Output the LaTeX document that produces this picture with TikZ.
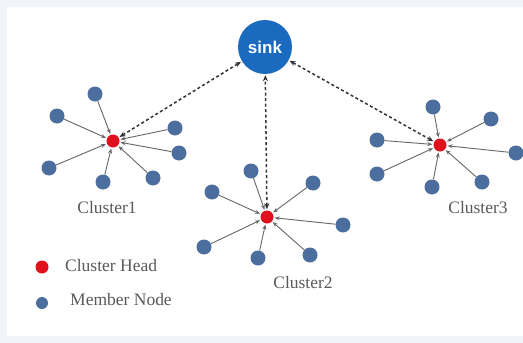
\documentclass[tikz,border=0pt]{standalone}
\usepackage{fontspec}
\setmainfont{Liberation Serif}
\setsansfont{Liberation Sans}
\usetikzlibrary{arrows.meta}
\definecolor{memb}{HTML}{4B6E9E}
\definecolor{headc}{HTML}{E0101C}
\definecolor{sinkc}{HTML}{1A6BC0}
\definecolor{txt}{HTML}{5A5A5A}
\definecolor{edge}{HTML}{F0F3F8}
\begin{document}
\begin{tikzpicture}[x=1pt,y=-1pt,
  member/.style={circle,fill=memb,inner sep=0pt,minimum size=15pt},
  head/.style={circle,fill=headc,inner sep=0pt,minimum size=13pt},
  sinknode/.style={circle,fill=sinkc,inner sep=0pt,minimum size=54pt,text=white,font=\sffamily\bfseries\fontsize{17}{17}\selectfont},
  lab/.style={text=txt,font=\fontsize{17.5}{17.5}\selectfont,inner sep=0pt},
  link/.style={draw=black!60,line width=0.9pt,-{Stealth[length=5pt,width=4pt]},shorten >=1pt},
  dlink/.style={draw=black!80,line width=1.5pt,dashed,dash pattern=on 3pt off 2.5pt,{Stealth[length=6pt,width=5pt]}-{Stealth[length=6pt,width=5pt]},shorten >=1pt,shorten <=1pt}]
\fill[edge] (0,0) rectangle (523,343);
\fill[white] (7,7) rectangle (523,336);
\useasboundingbox (0,0) rectangle (523,343);

\node[sinknode] (sink) at (265,47) {sink};

% cluster 1
\node[head] (h1) at (113,141) {};
\node[member] (a1) at (95,94) {};
\node[member] (a2) at (57,116) {};
\node[member] (a3) at (175,128) {};
\node[member] (a4) at (179,153) {};
\node[member] (a5) at (49,168) {};
\node[member] (a6) at (103,182) {};
\node[member] (a7) at (153,178) {};
\foreach \m in {a1,a2,a3,a4,a5,a6,a7} \draw[link] (\m) -- (h1);
\node[lab] (c1) at (107,208) {Cluster1};

% cluster 2
\node[head] (h2) at (267,217) {};
\node[member] (b1) at (251,171) {};
\node[member] (b2) at (212,192) {};
\node[member] (b3) at (313,183) {};
\node[member] (b4) at (343,225) {};
\node[member] (b5) at (204,247) {};
\node[member] (b6) at (258,258) {};
\node[member] (b7) at (310,255) {};
\foreach \m in {b1,b2,b3,b4,b5,b6,b7} \draw[link] (\m) -- (h2);
\node[lab] (c2) at (303,283) {Cluster2};

% cluster 3
\node[head] (h3) at (440,145) {};
\node[member] (d1) at (433,107) {};
\node[member] (d2) at (491,119) {};
\node[member] (d3) at (377,140) {};
\node[member] (d4) at (516,153) {};
\node[member] (d5) at (377,174) {};
\node[member] (d6) at (432,187) {};
\node[member] (d7) at (482,182) {};
\foreach \m in {d1,d2,d3,d4,d5,d6,d7} \draw[link] (\m) -- (h3);
\node[lab] (c3) at (478,208) {Cluster3};

% sink links
\draw[dlink] (h1) -- (sink);
\draw[dlink] (h2) -- (sink);
\draw[dlink] (h3) -- (sink);

% legend
\node[head,minimum size=13pt] (lh) at (42,267) {};
\node[lab,anchor=west] (lht) at (65,266) {Cluster Head};
\node[member,minimum size=12pt] (lm) at (42,303) {};
\node[lab,anchor=west] (lmt) at (70,300) {Member Node};
\end{tikzpicture}
\end{document}
